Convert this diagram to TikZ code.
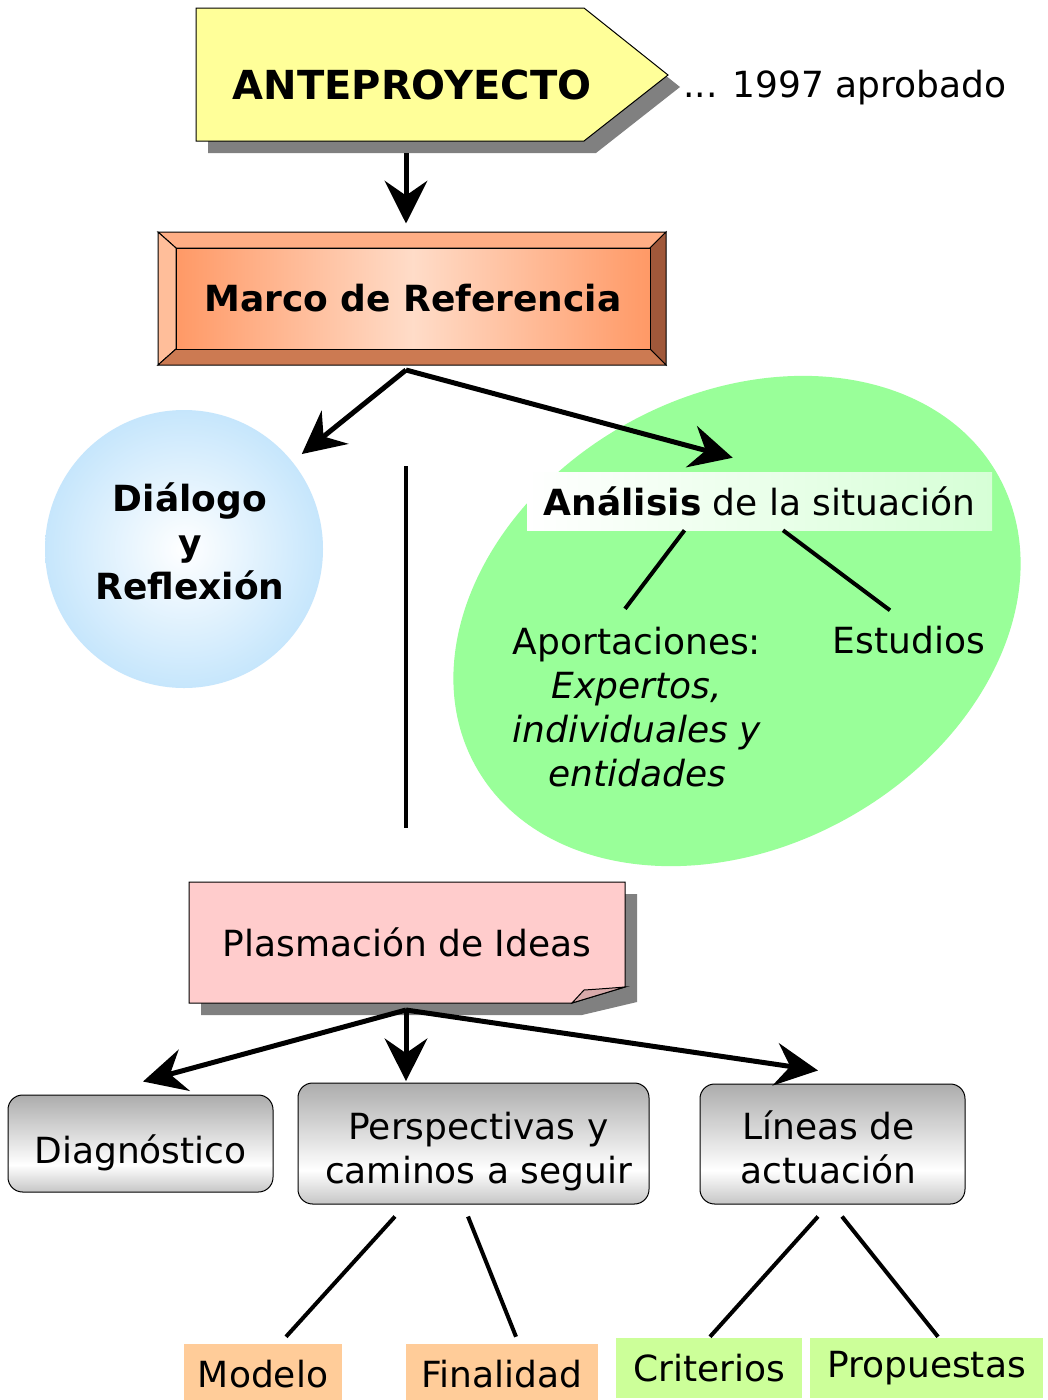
\documentclass[tikz,border=0pt]{standalone}
\usepackage{fontspec}
\setmainfont{DejaVu Sans}
\usetikzlibrary{arrows.meta,positioning}

\definecolor{antefill}{HTML}{FFFF99}
\definecolor{shadowgray}{HTML}{808080}
\definecolor{marcotop}{HTML}{FFAE85}
\definecolor{marcoleft}{HTML}{FFBE9A}
\definecolor{marcoright}{HTML}{A0583A}
\definecolor{marcobottom}{HTML}{CC7A52}
\definecolor{marcoedge}{HTML}{FF9966}
\definecolor{marcomid}{HTML}{FFDCC8}
\definecolor{dlgout}{HTML}{C6E6FC}
\definecolor{blobgreen}{HTML}{99FF99}
\definecolor{labgreen}{HTML}{D6FFD6}
\definecolor{notepink}{HTML}{FFCCCC}
\definecolor{notefold}{HTML}{D9AAAA}
\definecolor{peach}{HTML}{FFCC99}
\definecolor{lime}{HTML}{CCFF99}

\pgfdeclareverticalshading{btnshade}{100bp}{color(0bp)=(gray!45); color(25bp)=(gray!45); color(39bp)=(white); color(75bp)=(gray!65); color(100bp)=(gray!65)}

\tikzset{
  txt/.style={inner sep=0pt, font=\fontsize{27}{33}\selectfont, align=center},
  arr/.style={line width=3.75pt, -{Stealth[length=32pt,width=32pt,inset=11pt]}},
  tline/.style={line width=3pt},
  button/.style={txt, draw=black, line width=0.75pt, rounded corners=11pt, shade, shading=btnshade},
}

\begin{document}
\begin{tikzpicture}[x=0.75pt,y=-0.75pt]
        \useasboundingbox (0,0) rectangle (1048,1400);
        \fill[white] (0,0) rectangle (1048,1400);

        %Shape: Arrow box with shadow
        \fill[shadowgray] (208,20) -- (596,20) -- (680,87) -- (596,153) -- (208,153) -- cycle;
        \draw[fill=antefill, line width=0.75pt] (196,8) -- (584,8) -- (668,75) -- (584,141) -- (196,141) -- cycle;
        % Text Node
        \node[txt, font=\fontsize{30}{36}\selectfont\bfseries] (ante) at (412,85) {ANTEPROYECTO};
        % Text Node
        \node[txt, anchor=west] (year) at (683,88) {... 1997 aprobado};

        %Shape: Bevel frame
        \draw[fill=marcotop, line width=0.75pt] (158,232) -- (666,232) -- (650,248) -- (176,248) -- cycle;
        \draw[fill=marcoleft, line width=0.75pt] (158,232) -- (176,248) -- (176,349) -- (158,365) -- cycle;
        \draw[fill=marcoright, line width=0.75pt] (666,232) -- (666,365) -- (650,349) -- (650,248) -- cycle;
        \draw[fill=marcobottom, line width=0.75pt] (158,365) -- (666,365) -- (650,349) -- (176,349) -- cycle;
        \node[txt, font=\fontsize{27}{33}\selectfont\bfseries, minimum width=355.5pt, minimum height=75.75pt, draw, line width=0.75pt, left color=marcoedge, right color=marcoedge, middle color=marcomid] (marco) at (413,298.5) {Marco de Referencia};

        %Straight Lines: anteproyecto to marco
        \coordinate (antefoot) at (406,153);
        \draw[arr, shorten >=18pt] (antefoot) -- (antefoot |- marco.north);

        %Shape: Ellipse
        \fill[blobgreen, rotate around={29:(737,621)}] (737,621) ellipse [x radius=299, y radius=226];

        %Shape: Circle
        \node[txt, circle, minimum size=208.5pt, inner color=white, outer color=dlgout,
              label={[txt, font=\fontsize{27}{33}\selectfont\bfseries, xshift=4.5pt, yshift=6pt]center:Diálogo\\y\\Reflexión}] (dialogo) at (184,549) {};

        % Text Node
        \node[txt, minimum width=348.75pt, minimum height=43.5pt, left color=white, middle color=white, right color=labgreen] (analisis) at (759.5,501) {\textbf{Análisis} de la situación};
        % Text Node
        \node[txt] (aport) at (637,707) {Aportaciones:\\\textit{Expertos,}\\\textit{individuales y}\\\textit{entidades}};
        % Text Node
        \node[txt] (estud) at (909,640) {Estudios};

        %Straight Lines
        \coordinate (mfork) at (406,370);
        \draw[arr, shorten >=9pt] (mfork) -- (dialogo);
        \draw[arr] (mfork) -- ([shift={(206,-14)}]analisis.north west);
        \draw[tline] ([shift={(-75,0)}]analisis.south) -- ([shift={(-12,-18)}]aport.north);
        \draw[tline] ([shift={(23.5,0)}]analisis.south) -- ([shift={(-19,-15.5)}]estud.north);

        \coordinate (vtop) at (406,466);
        \coordinate (vbot) at (406,828);
        \draw[tline] (vtop) -- (vbot);

        %Shape: Note with folded corner
        \fill[shadowgray] (201,894) -- (637,894) -- (637,1002) -- (582,1015) -- (201,1015) -- cycle;
        \draw[fill=notepink, line width=0.75pt] (189,882) -- (625,882) -- (625,987) -- (572,1003) -- (189,1003) -- cycle;
        \draw[fill=notefold, line width=0.75pt] (572,1003) -- (584,990) .. controls (600,989) and (612,988) .. (625,987) -- cycle;
        % Text Node
        \node[txt, minimum width=327pt, minimum height=90.75pt] (plasma) at (407,942.5) {Plasmación de Ideas};

        %Shape: Buttons
        \node[button, minimum width=198.75pt, minimum height=72.75pt,
              label={[txt, yshift=-6.75pt]center:Diagnóstico}] (diag) at (140.5,1143.5) {};
        \node[button, minimum width=263.25pt, minimum height=90.75pt,
              label={[txt, xshift=3.75pt, yshift=-6pt]center:Perspectivas y\\caminos a seguir}] (persp) at (473.5,1143.5) {};
        \node[button, minimum width=198.75pt, minimum height=90pt,
              label={[txt, xshift=-3pt, yshift=-2.25pt]center:Líneas de\\actuación}] (lineas) at (832.5,1144) {};

        %Straight Lines
        \coordinate (pfork) at (406,1010);
        \draw[arr] (pfork) -- ([shift={(2.5,-13)}]diag.north);
        \draw[arr, shorten >=1pt] (pfork) -- (pfork |- persp.north);
        \draw[arr] (pfork) -- ([shift={(-14.5,-13)}]lineas.north);

        % Text Node
        \node[txt, fill=peach, minimum width=118.5pt, minimum height=45pt] (modelo) at (263,1374) {Modelo};
        \node[txt, fill=peach, minimum width=144pt, minimum height=45pt] (final) at (502,1374) {Finalidad};
        \node[txt, fill=lime, minimum width=139.5pt, minimum height=45pt] (crit) at (709,1368) {Criterios};
        \node[txt, fill=lime, minimum width=174.75pt, minimum height=45pt] (prop) at (926.5,1368) {Propuestas};

        %Straight Lines
        \draw[tline] ([shift={(-78.5,12)}]persp.south) -- ([shift={(23,-7)}]modelo.north);
        \draw[tline] ([shift={(-5.5,12)}]persp.south) -- ([shift={(14,-7)}]final.north);
        \draw[tline] ([shift={(-14.5,12)}]lineas.south) -- ([shift={(1,-1)}]crit.north);
        \draw[tline] ([shift={(9.5,12)}]lineas.south) -- ([shift={(11.5,-1)}]prop.north);

\end{tikzpicture}
\end{document}
